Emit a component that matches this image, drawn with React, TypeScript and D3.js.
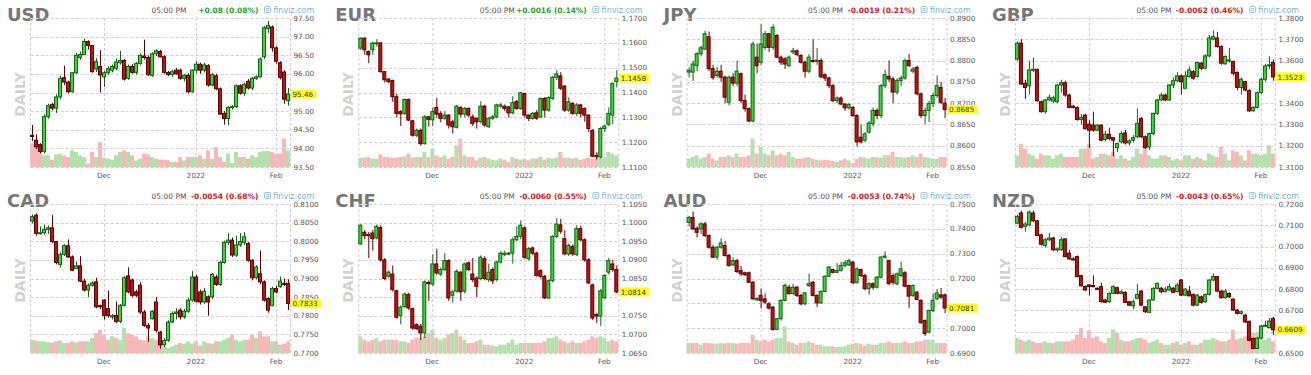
import React from "react";
import * as d3 from "d3";

type Candle = [number, number, number, number]; // open, high, low, close

const symbols = ["USD", "EUR", "JPY", "GBP", "CAD", "CHF", "AUD", "NZD"];
const changeTexts = ["+0.08 (0.08%)", "+0.0016 (0.14%)", "-0.0019 (0.21%)", "-0.0062 (0.46%)", "-0.0054 (0.68%)", "-0.0060 (0.55%)", "-0.0053 (0.74%)", "-0.0043 (0.65%)"];
const lastLabels = ["95.46", "1.1458", "0.8685", "1.3523", "0.7833", "1.0814", "0.7081", "0.6609"];
const monthLabels = ["Dec", "2022", "Feb"];
const monthIndex = [18, 41, 61];

const usdTicks = [93.5, 94, 94.5, 95, 95.5, 96, 96.5, 97, 97.5];
const eurTicks = [1.11, 1.12, 1.13, 1.14, 1.15, 1.16, 1.17];
const jpyTicks = [0.855, 0.86, 0.865, 0.87, 0.875, 0.88, 0.885, 0.89];
const gbpTicks = [1.31, 1.32, 1.33, 1.34, 1.35, 1.36, 1.37, 1.38];
const cadTicks = [0.77, 0.775, 0.78, 0.785, 0.79, 0.795, 0.8, 0.805, 0.81];
const chfTicks = [1.065, 1.07, 1.075, 1.08, 1.085, 1.09, 1.095, 1.1, 1.105];
const audTicks = [0.69, 0.7, 0.71, 0.72, 0.73, 0.74, 0.75];
const nzdTicks = [0.65, 0.66, 0.67, 0.68, 0.69, 0.7, 0.71, 0.72];

const usdCandles: Candle[] = [
  [94.35,94.63,94.20,94.32],[94.22,94.38,93.98,94.04],[94.10,94.14,93.87,93.92],[93.92,94.92,93.86,94.85],[94.85,95.20,94.80,95.15],
  [95.18,95.22,95.02,95.08],[95.08,95.45,94.95,95.38],[95.38,95.95,95.32,95.88],[95.90,96.22,95.70,95.78],[95.78,95.82,95.48,95.52],
  [95.52,96.05,95.50,96.03],[96.03,96.56,96.00,96.50],[96.44,96.60,96.38,96.52],[96.52,96.95,96.50,96.87],[96.87,96.90,96.65,96.76],
  [96.76,96.78,96.03,96.06],[96.13,96.42,96.05,96.33],[96.20,96.64,95.50,95.97],[95.92,96.08,95.65,96.03],[96.03,96.20,95.98,96.14],
  [96.10,96.25,96.04,96.20],[96.15,96.42,96.10,96.32],[96.30,96.62,96.25,96.36],[96.36,96.40,95.82,95.86],[95.88,96.25,95.84,96.20],
  [96.20,96.26,96.00,96.04],[96.04,96.32,95.98,96.28],[96.28,96.55,96.24,96.50],[96.48,96.92,96.38,96.44],[96.44,96.50,95.94,95.98],
  [95.96,96.58,95.92,96.54],[96.54,96.66,96.48,96.62],[96.60,96.64,96.44,96.46],[96.46,96.50,96.00,96.04],[96.04,96.08,95.94,95.98],
  [95.98,96.10,95.92,96.06],[96.10,96.16,95.98,96.00],[96.10,96.14,95.84,95.88],[95.88,96.00,95.80,95.96],[95.96,96.02,95.48,95.52],
  [95.52,96.12,95.50,96.10],[96.10,96.34,96.02,96.26],[96.26,96.30,96.00,96.10],[96.10,96.30,96.04,96.24],[96.22,96.26,95.66,95.70],
  [95.70,96.02,95.66,95.98],[95.95,96.00,95.56,95.60],[95.60,95.64,94.90,94.92],[94.94,95.00,94.64,94.80],[94.80,95.14,94.62,95.10],
  [95.10,95.16,95.04,95.12],[95.12,95.72,95.08,95.68],[95.68,95.72,95.44,95.48],[95.48,95.76,95.40,95.72],[95.80,95.86,95.58,95.62],
  [95.62,95.92,95.56,95.88],[95.88,95.96,95.84,95.92],[95.92,96.44,95.90,96.40],[96.46,97.28,96.40,97.24],[97.22,97.42,97.10,97.30],
  [97.26,97.30,96.60,96.70],[96.70,96.74,96.28,96.34],[96.30,96.34,95.85,95.90],[96.05,96.10,95.20,95.32],[95.28,95.62,95.15,95.46],
];
const usdVolume = [70,70,65,35,35,22,38,40,35,30,50,45,35,30,10,45,30,75,28,25,22,35,45,50,45,35,20,25,40,38,30,25,22,22,20,15,15,30,20,30,30,30,35,25,50,25,60,30,15,40,12,45,30,30,25,35,30,45,48,48,45,40,40,85,50];

const eurCandles: Candle[] = [
  [1.1579,1.1622,1.1572,1.1619],[1.1619,1.1622,1.1552,1.1572],[1.1565,1.1570,1.1518,1.1552],[1.1572,1.1605,1.1552,1.1599],[1.1596,1.1615,1.1585,1.1600],
  [1.1600,1.1602,1.1480,1.1484],[1.1484,1.1486,1.1440,1.1451],[1.1454,1.1458,1.1438,1.1444],[1.1448,1.1452,1.1362,1.1383],[1.1383,1.1395,1.1300,1.1316],
  [1.1323,1.1330,1.1265,1.1314],[1.1316,1.1376,1.1310,1.1372],[1.1372,1.1376,1.1285,1.1289],[1.1286,1.1290,1.1222,1.1228],[1.1228,1.1255,1.1220,1.1248],
  [1.1248,1.1255,1.1186,1.1194],[1.1194,1.1310,1.1190,1.1302],[1.1302,1.1306,1.1262,1.1292],[1.1290,1.1340,1.1265,1.1323],[1.1340,1.1378,1.1300,1.1313],
  [1.1316,1.1325,1.1280,1.1296],[1.1296,1.1325,1.1290,1.1309],[1.1309,1.1312,1.1255,1.1269],[1.1282,1.1290,1.1235,1.1262],[1.1260,1.1350,1.1255,1.1345],
  [1.1340,1.1345,1.1300,1.1313],[1.1313,1.1342,1.1300,1.1336],[1.1336,1.1340,1.1300,1.1309],[1.1302,1.1312,1.1265,1.1275],[1.1296,1.1300,1.1255,1.1282],
  [1.1282,1.1365,1.1275,1.1345],[1.1345,1.1350,1.1262,1.1269],[1.1262,1.1302,1.1258,1.1296],[1.1296,1.1310,1.1290,1.1302],[1.1302,1.1355,1.1296,1.1350],
  [1.1345,1.1358,1.1338,1.1350],[1.1345,1.1352,1.1325,1.1336],[1.1342,1.1346,1.1300,1.1318],[1.1318,1.1385,1.1312,1.1359],[1.1363,1.1370,1.1330,1.1336],
  [1.1336,1.1402,1.1330,1.1399],[1.1396,1.1400,1.1300,1.1309],[1.1309,1.1312,1.1285,1.1296],[1.1296,1.1322,1.1290,1.1316],[1.1318,1.1330,1.1290,1.1296],
  [1.1302,1.1380,1.1296,1.1376],[1.1376,1.1382,1.1300,1.1329],[1.1329,1.1385,1.1322,1.1380],[1.1376,1.1466,1.1370,1.1461],[1.1461,1.1490,1.1450,1.1475],
  [1.1467,1.1482,1.1410,1.1417],[1.1426,1.1430,1.1322,1.1329],[1.1329,1.1380,1.1322,1.1363],[1.1356,1.1362,1.1310,1.1316],[1.1316,1.1358,1.1305,1.1350],
  [1.1350,1.1355,1.1300,1.1316],[1.1336,1.1340,1.1282,1.1309],[1.1309,1.1312,1.1240,1.1255],[1.1248,1.1252,1.1140,1.1143],[1.1147,1.1160,1.1130,1.1144],
  [1.1141,1.1262,1.1135,1.1255],[1.1255,1.1270,1.1240,1.1265],[1.1272,1.1340,1.1265,1.1316],[1.1309,1.1440,1.1272,1.1437],[1.1444,1.1490,1.1420,1.1458],
];
const eurVolume = [28,28,30,25,25,38,30,30,28,28,30,32,40,28,30,30,45,30,55,35,30,35,25,30,65,85,35,30,30,20,28,30,25,22,20,25,22,15,30,25,22,25,20,25,25,30,22,28,25,28,45,28,28,25,28,22,25,28,25,30,30,30,45,40,35];

const jpyCandles: Candle[] = [
  [0.8773,0.8784,0.8760,0.8777],[0.8773,0.8800,0.8752,0.8792],[0.8788,0.8820,0.8775,0.8816],[0.8816,0.8835,0.8810,0.8830],[0.8827,0.8870,0.8825,0.8863],
  [0.8856,0.8868,0.8775,0.8781],[0.8781,0.8790,0.8755,0.8760],[0.8765,0.8785,0.8760,0.8775],[0.8775,0.8790,0.8750,0.8761],[0.8761,0.8765,0.8700,0.8714],
  [0.8702,0.8765,0.8695,0.8761],[0.8761,0.8770,0.8740,0.8747],[0.8747,0.8800,0.8740,0.8775],[0.8769,0.8772,0.8700,0.8706],[0.8706,0.8720,0.8680,0.8687],
  [0.8687,0.8690,0.8655,0.8658],[0.8658,0.8845,0.8655,0.8839],[0.8808,0.8840,0.8770,0.8788],[0.8796,0.8885,0.8790,0.8839],[0.8831,0.8870,0.8825,0.8863],
  [0.8863,0.8865,0.8820,0.8831],[0.8831,0.8885,0.8825,0.8878],[0.8859,0.8862,0.8805,0.8808],[0.8808,0.8812,0.8790,0.8796],[0.8804,0.8808,0.8780,0.8792],
  [0.8788,0.8812,0.8785,0.8808],[0.8820,0.8830,0.8815,0.8823],[0.8823,0.8826,0.8810,0.8814],[0.8812,0.8815,0.8793,0.8796],[0.8796,0.8800,0.8760,0.8775],
  [0.8775,0.8815,0.8770,0.8808],[0.8800,0.8850,0.8795,0.8798],[0.8798,0.8830,0.8790,0.8801],[0.8800,0.8805,0.8758,0.8762],[0.8767,0.8770,0.8752,0.8759],
  [0.8759,0.8762,0.8735,0.8741],[0.8741,0.8745,0.8702,0.8706],[0.8706,0.8716,0.8700,0.8712],[0.8712,0.8716,0.8695,0.8698],[0.8698,0.8700,0.8682,0.8689],
  [0.8689,0.8700,0.8685,0.8697],[0.8690,0.8693,0.8668,0.8671],[0.8671,0.8674,0.8598,0.8609],[0.8620,0.8650,0.8605,0.8609],[0.8613,0.8632,0.8608,0.8628],
  [0.8632,0.8658,0.8628,0.8653],[0.8652,0.8690,0.8645,0.8683],[0.8683,0.8688,0.8662,0.8671],[0.8671,0.8745,0.8665,0.8741],[0.8741,0.8778,0.8735,0.8767],
  [0.8763,0.8800,0.8750,0.8757],[0.8757,0.8762,0.8700,0.8726],[0.8726,0.8758,0.8720,0.8753],[0.8753,0.8765,0.8740,0.8759],[0.8759,0.8805,0.8755,0.8800],
  [0.8800,0.8815,0.8785,0.8788],[0.8775,0.8785,0.8770,0.8780],[0.8784,0.8788,0.8718,0.8722],[0.8722,0.8725,0.8665,0.8671],[0.8671,0.8690,0.8650,0.8683],
  [0.8683,0.8705,0.8655,0.8699],[0.8699,0.8725,0.8690,0.8718],[0.8718,0.8765,0.8712,0.8741],[0.8737,0.8750,0.8698,0.8702],[0.8700,0.8712,0.8665,0.8685],
];
const jpyVolume = [25,30,35,25,30,40,25,20,30,30,35,30,40,30,30,35,85,40,60,40,35,50,35,40,35,45,30,25,25,28,30,25,22,20,22,20,18,15,20,25,20,12,25,30,28,25,30,30,28,35,35,45,30,30,28,30,35,30,40,30,28,25,25,30,30];

const gbpCandles: Candle[] = [
  [1.3607,1.3690,1.3600,1.3682],[1.3682,1.3700,1.3485,1.3490],[1.3493,1.3510,1.3420,1.3474],[1.3481,1.3600,1.3440,1.3556],[1.3556,1.3615,1.3545,1.3559],
  [1.3559,1.3562,1.3408,1.3411],[1.3407,1.3412,1.3355,1.3360],[1.3360,1.3420,1.3350,1.3415],[1.3415,1.3440,1.3410,1.3427],[1.3410,1.3435,1.3400,1.3425],
  [1.3407,1.3490,1.3400,1.3485],[1.3485,1.3510,1.3450,1.3496],[1.3496,1.3505,1.3430,1.3438],[1.3438,1.3445,1.3376,1.3380],[1.3386,1.3390,1.3375,1.3380],
  [1.3380,1.3385,1.3318,1.3323],[1.3323,1.3350,1.3300,1.3333],[1.3344,1.3350,1.3275,1.3281],[1.3301,1.3320,1.3190,1.3273],[1.3297,1.3360,1.3265,1.3273],
  [1.3273,1.3300,1.3270,1.3297],[1.3297,1.3300,1.3220,1.3226],[1.3229,1.3270,1.3220,1.3254],[1.3254,1.3285,1.3225,1.3234],[1.3238,1.3240,1.3150,1.3226],
  [1.3191,1.3215,1.3170,1.3210],[1.3218,1.3270,1.3210,1.3257],[1.3260,1.3275,1.3205,1.3213],[1.3213,1.3230,1.3200,1.3223],[1.3226,1.3250,1.3215,1.3238],
  [1.3242,1.3375,1.3235,1.3305],[1.3328,1.3335,1.3235,1.3242],[1.3242,1.3248,1.3185,1.3191],[1.3194,1.3262,1.3180,1.3257],[1.3257,1.3355,1.3250,1.3352],
  [1.3352,1.3420,1.3345,1.3415],[1.3415,1.3450,1.3410,1.3438],[1.3438,1.3445,1.3410,1.3415],[1.3415,1.3490,1.3410,1.3485],[1.3485,1.3520,1.3470,1.3505],
  [1.3505,1.3545,1.3500,1.3528],[1.3528,1.3535,1.3440,1.3501],[1.3470,1.3550,1.3465,1.3528],[1.3525,1.3572,1.3520,1.3556],[1.3548,1.3555,1.3510,1.3517],
  [1.3525,1.3595,1.3520,1.3591],[1.3588,1.3592,1.3555,1.3564],[1.3564,1.3630,1.3560,1.3622],[1.3622,1.3720,1.3615,1.3706],[1.3701,1.3742,1.3695,1.3713],
  [1.3706,1.3735,1.3660,1.3666],[1.3666,1.3672,1.3580,1.3588],[1.3585,1.3625,1.3580,1.3619],[1.3599,1.3660,1.3590,1.3603],[1.3595,1.3600,1.3530,1.3540],
  [1.3544,1.3550,1.3460,1.3474],[1.3474,1.3520,1.3440,1.3512],[1.3501,1.3505,1.3455,1.3462],[1.3459,1.3465,1.3358,1.3364],[1.3364,1.3385,1.3360,1.3380],
  [1.3380,1.3455,1.3375,1.3449],[1.3449,1.3520,1.3445,1.3512],[1.3512,1.3585,1.3500,1.3575],[1.3575,1.3620,1.3560,1.3580],[1.3591,1.3605,1.3505,1.3523],
];
const gbpVolume = [35,70,55,40,35,25,40,35,35,25,35,40,30,30,30,30,55,55,70,25,30,40,40,35,45,25,35,25,20,30,55,40,55,35,25,25,35,35,30,20,25,20,35,35,25,30,25,20,40,35,30,60,40,20,50,45,35,20,50,40,40,35,40,65,40];

const cadCandles: Candle[] = [
  [0.8054,0.8072,0.8048,0.8066],[0.8070,0.8075,0.8015,0.8021],[0.8021,0.8040,0.8018,0.8023],[0.8023,0.8045,0.8018,0.8032],[0.8032,0.8042,0.8020,0.8036],
  [0.8036,0.8070,0.7995,0.7999],[0.7999,0.8000,0.7938,0.7943],[0.7938,0.7970,0.7930,0.7965],[0.7965,0.7992,0.7960,0.7988],[0.7988,0.8005,0.7955,0.7958],
  [0.7958,0.7962,0.7920,0.7922],[0.7927,0.7945,0.7925,0.7934],[0.7934,0.7960,0.7890,0.7893],[0.7893,0.7900,0.7865,0.7869],[0.7869,0.7887,0.7850,0.7882],
  [0.7882,0.7893,0.7878,0.7888],[0.7891,0.7902,0.7820,0.7824],[0.7827,0.7830,0.7818,0.7824],[0.7842,0.7845,0.7790,0.7801],[0.7819,0.7868,0.7795,0.7801],
  [0.7797,0.7805,0.7790,0.7800],[0.7801,0.7838,0.7780,0.7785],[0.7785,0.7832,0.7780,0.7828],[0.7828,0.7906,0.7825,0.7902],[0.7907,0.7930,0.7860,0.7864],
  [0.7896,0.7900,0.7850,0.7855],[0.7864,0.7870,0.7850,0.7855],[0.7882,0.7890,0.7805,0.7810],[0.7810,0.7815,0.7770,0.7774],[0.7774,0.7780,0.7730,0.7767],
  [0.7792,0.7815,0.7790,0.7812],[0.7837,0.7850,0.7755,0.7761],[0.7756,0.7760,0.7712,0.7722],[0.7722,0.7740,0.7716,0.7734],[0.7734,0.7788,0.7730,0.7783],
  [0.7783,0.7812,0.7780,0.7806],[0.7806,0.7820,0.7790,0.7810],[0.7815,0.7820,0.7790,0.7797],[0.7797,0.7818,0.7792,0.7812],[0.7812,0.7848,0.7808,0.7842],
  [0.7842,0.7920,0.7838,0.7904],[0.7904,0.7910,0.7835,0.7839],[0.7864,0.7870,0.7830,0.7837],[0.7837,0.7875,0.7832,0.7866],[0.7851,0.7855,0.7800,0.7837],
  [0.7851,0.7915,0.7845,0.7911],[0.7904,0.7910,0.7880,0.7884],[0.7884,0.7948,0.7880,0.7943],[0.7943,0.8002,0.7940,0.7997],[0.7997,0.8022,0.7990,0.8003],
  [0.8003,0.8010,0.7958,0.7963],[0.7963,0.8015,0.7958,0.7990],[0.7990,0.8022,0.7985,0.7999],[0.7997,0.8025,0.7990,0.8012],[0.7994,0.7998,0.7945,0.7949],
  [0.7949,0.7952,0.7895,0.7902],[0.7902,0.7936,0.7898,0.7931],[0.7913,0.7975,0.7885,0.7891],[0.7891,0.7895,0.7838,0.7842],[0.7846,0.7850,0.7808,0.7815],
  [0.7828,0.7878,0.7825,0.7873],[0.7873,0.7880,0.7860,0.7864],[0.7878,0.7905,0.7875,0.7893],[0.7887,0.7900,0.7880,0.7884],[0.7887,0.7898,0.7815,0.7833],
];
const cadVolume = [40,38,35,35,33,30,35,38,30,30,35,32,35,35,35,45,60,70,55,40,50,45,40,75,60,55,50,40,38,50,45,40,25,20,15,20,25,30,28,35,28,35,22,35,30,28,35,35,40,45,55,40,35,40,40,55,45,65,50,50,35,35,25,28,35];

const chfCandles: Candle[] = [
  [1.0943,1.0996,1.0940,1.0993],[1.0974,1.0980,1.0955,1.0965],[1.0968,1.0975,1.0905,1.0965],[1.0972,1.0980,1.0925,1.0957],[1.0959,1.0995,1.0955,1.0990],
  [1.0987,1.0993,1.0895,1.0900],[1.0900,1.0905,1.0845,1.0850],[1.0856,1.0872,1.0850,1.0867],[1.0862,1.0885,1.0815,1.0820],[1.0817,1.0820,1.0742,1.0746],
  [1.0751,1.0778,1.0727,1.0773],[1.0775,1.0812,1.0770,1.0808],[1.0807,1.0812,1.0765,1.0771],[1.0769,1.0772,1.0712,1.0717],[1.0726,1.0730,1.0712,1.0715],
  [1.0722,1.0728,1.0685,1.0704],[1.0704,1.0845,1.0690,1.0841],[1.0839,1.0845,1.0790,1.0838],[1.0835,1.0915,1.0830,1.0889],[1.0889,1.0930,1.0860,1.0865],
  [1.0862,1.0880,1.0856,1.0874],[1.0874,1.0918,1.0870,1.0898],[1.0898,1.0902,1.0790,1.0798],[1.0805,1.0820,1.0785,1.0814],[1.0816,1.0875,1.0812,1.0869],
  [1.0867,1.0870,1.0790,1.0814],[1.0816,1.0893,1.0810,1.0889],[1.0892,1.0896,1.0870,1.0874],[1.0862,1.0905,1.0840,1.0847],[1.0851,1.0856,1.0800,1.0829],
  [1.0850,1.0912,1.0845,1.0907],[1.0903,1.0910,1.0845,1.0850],[1.0847,1.0890,1.0840,1.0867],[1.0874,1.0880,1.0835,1.0844],[1.0847,1.0898,1.0842,1.0894],
  [1.0894,1.0924,1.0890,1.0918],[1.0914,1.0925,1.0910,1.0918],[1.0916,1.0922,1.0912,1.0918],[1.0918,1.0960,1.0890,1.0954],[1.0954,1.0990,1.0950,1.0963],
  [1.0963,1.1006,1.0955,1.0993],[1.0986,1.0990,1.0903,1.0907],[1.0903,1.0935,1.0898,1.0930],[1.0932,1.0936,1.0912,1.0918],[1.0918,1.0922,1.0855,1.0858],
  [1.0871,1.0875,1.0850,1.0856],[1.0856,1.0860,1.0795,1.0798],[1.0798,1.0848,1.0795,1.0844],[1.0844,1.0966,1.0840,1.0963],[1.0963,1.1012,1.0958,1.0996],
  [1.0994,1.1010,1.0970,1.0977],[1.0957,1.0980,1.0912,1.0916],[1.0916,1.0944,1.0910,1.0939],[1.0936,1.0942,1.0910,1.0916],[1.0914,1.0993,1.0910,1.0984],
  [1.0984,1.0992,1.0950,1.0954],[1.0954,1.0958,1.0895,1.0900],[1.0900,1.0905,1.0835,1.0838],[1.0833,1.0836,1.0738,1.0744],[1.0753,1.0758,1.0730,1.0749],
  [1.0749,1.0822,1.0722,1.0817],[1.0798,1.0862,1.0795,1.0858],[1.0867,1.0905,1.0860,1.0898],[1.0889,1.0900,1.0868,1.0874],[1.0874,1.0885,1.0810,1.0814],
];
const chfVolume = [50,40,35,40,45,35,40,40,40,40,35,35,30,40,45,45,50,60,70,45,40,45,55,60,70,50,40,30,30,35,40,25,25,22,20,25,25,30,40,25,30,30,30,30,30,30,35,45,45,50,40,35,30,35,30,30,35,40,50,45,50,45,35,40,35];

const audCandles: Candle[] = [
  [0.7426,0.7452,0.7410,0.7446],[0.7446,0.7470,0.7395,0.7400],[0.7402,0.7410,0.7365,0.7386],[0.7400,0.7428,0.7380,0.7420],[0.7420,0.7428,0.7368,0.7373],
  [0.7373,0.7378,0.7320,0.7326],[0.7326,0.7335,0.7282,0.7286],[0.7286,0.7330,0.7275,0.7326],[0.7326,0.7362,0.7320,0.7343],[0.7333,0.7352,0.7288,0.7293],
  [0.7293,0.7298,0.7248,0.7252],[0.7255,0.7285,0.7250,0.7272],[0.7272,0.7280,0.7222,0.7228],[0.7232,0.7250,0.7210,0.7219],[0.7223,0.7228,0.7210,0.7215],
  [0.7223,0.7228,0.7182,0.7185],[0.7185,0.7190,0.7115,0.7118],[0.7114,0.7125,0.7110,0.7120],[0.7132,0.7160,0.7080,0.7112],[0.7118,0.7140,0.7098,0.7105],
  [0.7098,0.7105,0.7075,0.7081],[0.7085,0.7088,0.6990,0.6995],[0.6995,0.7042,0.6992,0.7038],[0.7038,0.7116,0.7030,0.7112],[0.7112,0.7180,0.7108,0.7172],
  [0.7165,0.7175,0.7135,0.7139],[0.7139,0.7178,0.7135,0.7165],[0.7165,0.7170,0.7125,0.7132],[0.7132,0.7138,0.7092,0.7098],[0.7098,0.7146,0.7092,0.7142],
  [0.7172,0.7220,0.7165,0.7179],[0.7185,0.7190,0.7128,0.7132],[0.7132,0.7136,0.7085,0.7102],[0.7102,0.7152,0.7098,0.7148],[0.7148,0.7213,0.7145,0.7209],
  [0.7209,0.7250,0.7205,0.7246],[0.7236,0.7240,0.7220,0.7225],[0.7225,0.7262,0.7222,0.7232],[0.7232,0.7268,0.7228,0.7252],[0.7252,0.7275,0.7245,0.7263],
  [0.7255,0.7280,0.7250,0.7272],[0.7266,0.7270,0.7178,0.7183],[0.7183,0.7245,0.7180,0.7239],[0.7236,0.7240,0.7205,0.7212],[0.7212,0.7220,0.7152,0.7159],
  [0.7159,0.7185,0.7135,0.7179],[0.7179,0.7185,0.7155,0.7165],[0.7165,0.7210,0.7160,0.7205],[0.7205,0.7290,0.7200,0.7286],[0.7286,0.7310,0.7280,0.7290],
  [0.7272,0.7276,0.7175,0.7179],[0.7212,0.7220,0.7175,0.7185],[0.7179,0.7224,0.7172,0.7219],[0.7212,0.7268,0.7205,0.7239],[0.7223,0.7230,0.7165,0.7169],
  [0.7172,0.7176,0.7082,0.7129],[0.7132,0.7176,0.7125,0.7172],[0.7145,0.7150,0.7112,0.7116],[0.7112,0.7116,0.7018,0.7022],[0.7031,0.7035,0.6968,0.6978],
  [0.6984,0.7075,0.6980,0.7071],[0.7071,0.7140,0.7065,0.7112],[0.7118,0.7158,0.7112,0.7142],[0.7134,0.7162,0.7118,0.7125],[0.7134,0.7140,0.7060,0.7081],
];
const audVolume = [30,30,30,25,30,30,28,28,30,28,30,30,28,30,30,30,55,40,35,40,35,40,45,45,80,35,30,25,30,30,35,30,25,25,20,20,20,18,18,20,25,28,30,28,22,28,25,25,30,30,35,30,30,30,35,30,30,35,35,40,40,40,30,30,30];

const nzdCandles: Candle[] = [
  [0.7110,0.7148,0.7105,0.7142],[0.7158,0.7168,0.7085,0.7090],[0.7095,0.7115,0.7070,0.7106],[0.7102,0.7170,0.7098,0.7162],[0.7158,0.7170,0.7115,0.7121],
  [0.7121,0.7125,0.7048,0.7052],[0.7055,0.7060,0.7005,0.7011],[0.7005,0.7040,0.6995,0.7032],[0.7032,0.7065,0.7025,0.7040],[0.7040,0.7045,0.6980,0.6985],
  [0.6985,0.6995,0.6975,0.6989],[0.6985,0.7045,0.6980,0.7032],[0.7036,0.7040,0.6950,0.6953],[0.6969,0.6985,0.6938,0.6942],[0.6942,0.6950,0.6935,0.6940],
  [0.6953,0.6958,0.6855,0.6859],[0.6863,0.6868,0.6812,0.6816],[0.6812,0.6818,0.6790,0.6796],[0.6820,0.6822,0.6770,0.6812],[0.6817,0.6865,0.6808,0.6812],
  [0.6804,0.6808,0.6795,0.6800],[0.6812,0.6830,0.6738,0.6741],[0.6749,0.6752,0.6735,0.6738],[0.6741,0.6785,0.6735,0.6780],[0.6780,0.6818,0.6776,0.6812],
  [0.6807,0.6812,0.6776,0.6780],[0.6780,0.6795,0.6775,0.6788],[0.6785,0.6790,0.6735,0.6738],[0.6741,0.6745,0.6720,0.6725],[0.6722,0.6752,0.6705,0.6741],
  [0.6757,0.6825,0.6752,0.6775],[0.6791,0.6795,0.6720,0.6725],[0.6717,0.6720,0.6688,0.6694],[0.6691,0.6752,0.6688,0.6749],[0.6749,0.6808,0.6745,0.6804],
  [0.6804,0.6832,0.6800,0.6827],[0.6804,0.6810,0.6780,0.6788],[0.6788,0.6810,0.6785,0.6800],[0.6796,0.6825,0.6790,0.6812],[0.6804,0.6810,0.6780,0.6785],
  [0.6788,0.6830,0.6785,0.6819],[0.6843,0.6848,0.6768,0.6772],[0.6772,0.6805,0.6768,0.6800],[0.6791,0.6815,0.6765,0.6769],[0.6775,0.6780,0.6720,0.6725],
  [0.6725,0.6778,0.6720,0.6772],[0.6764,0.6770,0.6732,0.6738],[0.6741,0.6780,0.6735,0.6775],[0.6775,0.6848,0.6770,0.6843],[0.6843,0.6875,0.6838,0.6859],
  [0.6859,0.6862,0.6785,0.6791],[0.6791,0.6795,0.6755,0.6760],[0.6760,0.6800,0.6755,0.6791],[0.6780,0.6785,0.6758,0.6764],[0.6753,0.6757,0.6698,0.6702],
  [0.6702,0.6706,0.6680,0.6686],[0.6686,0.6698,0.6680,0.6694],[0.6678,0.6685,0.6640,0.6646],[0.6649,0.6652,0.6555,0.6560],[0.6568,0.6572,0.6518,0.6521],
  [0.6521,0.6575,0.6518,0.6570],[0.6570,0.6632,0.6565,0.6627],[0.6627,0.6652,0.6622,0.6630],[0.6619,0.6665,0.6615,0.6650],[0.6662,0.6670,0.6585,0.6609],
];
const nzdVolume = [45,40,35,40,35,30,30,35,30,30,35,35,35,35,40,55,75,45,68,45,50,35,30,45,70,60,40,35,35,40,45,45,40,30,35,40,30,25,25,30,35,25,30,35,25,25,30,40,40,45,40,35,35,40,70,40,45,50,55,60,60,50,40,45,35];

const allCandles = [usdCandles, eurCandles, jpyCandles, gbpCandles, cadCandles, chfCandles, audCandles, nzdCandles];
const allVolumes = [usdVolume, eurVolume, jpyVolume, gbpVolume, cadVolume, chfVolume, audVolume, nzdVolume];
const allTicks = [usdTicks, eurTicks, jpyTicks, gbpTicks, cadTicks, chfTicks, audTicks, nzdTicks];

const PLOT = { left: 30.7, right: 290.7, top: 18, bottom: 167 };
const COL_W = 328.3;
const ROW_H = 186;
const FONT = "'DejaVu Sans', Verdana, sans-serif";

const UP_FILL = "#2fdc2f";
const UP_LINE = "#1a5c1a";
const DOWN_FILL = "#c40f0f";
const DOWN_LINE = "#520404";
const VOL_UP = "#b3e1aa";
const VOL_DOWN = "#f8b8b8";
const GRID = "#cfcfcf";

function Panel({ idx }: { idx: number }) {
  const candles = allCandles[idx];
  const volumes = allVolumes[idx];
  const ticks = allTicks[idx];
  const symbol = symbols[idx];
  const change = changeTexts[idx];
  const lastLabel = lastLabels[idx];
  const ox = (idx % 4) * COL_W;
  const oy = Math.floor(idx / 4) * ROW_H;
  const n = candles.length;

  const x = d3.scaleLinear().domain([0, n - 1]).range([32, 288]);
  const y = d3.scaleLinear().domain([ticks[0], ticks[ticks.length - 1]]).range([PLOT.bottom, PLOT.top]);
  const v = d3.scaleLinear().domain([0, 90]).range([0, 30]);
  const fmt = d3.format(symbol === "USD" ? ".2f" : ".4f");
  const crisp = (t: number) => Math.round(t) + 0.5;
  const up = change.startsWith("+");
  const lastClose = candles[n - 1][3];
  const ly = y(lastClose);
  const labelW = lastLabel.length * 4.7 + 2;
  // tick labels hidden behind the yellow last-price tag (as in the original)
  const visibleTicks = ticks.filter((t) => Math.abs(y(t) - ly) > 5.6);

  return (
    <g transform={`translate(${ox},${oy})`}>
      <text x={7} y={20.7} fontSize={18} fontWeight="bold" fill="#767676">{symbol}</text>
      <text transform="translate(25,94.5) rotate(-90)" textAnchor="middle" fontSize={14} fontWeight="bold" fill="#d2d2d2">DAILY</text>
      <text x={151.5} y={13.3} fontSize={7.5} fill="#555">05:00 PM</text>
      <text x={258.5} y={13.3} textAnchor="end" fontSize={7.5} fontWeight="bold" fill={up ? "#2f9f2f" : "#cc2222"}>{change}</text>
      <g stroke="#86b4d2" fill="none" strokeWidth={0.8}>
        <rect x={264.5} y={6.5} width={6} height={6} rx={0.8} />
        <line x1={266} y1={8.5} x2={269} y2={8.5} />
        <line x1={266} y1={10.5} x2={269} y2={10.5} />
      </g>
      <text x={273.3} y={13.2} fontSize={8} fill="#7fb0d0">finviz.com</text>

      {volumes.map((vol, i) => {
        const c = candles[i];
        const isUp = c[3] >= c[0];
        const h = v(vol);
        return (
          <rect key={`v${i}`} x={x(i) - 2} y={PLOT.bottom - h} width={4} height={h} fill={isUp ? VOL_UP : VOL_DOWN} />
        );
      })}

      {ticks.map((t, i) => (
        <line key={`h${i}`} x1={PLOT.left} x2={PLOT.right} y1={crisp(y(t))} y2={crisp(y(t))} stroke={GRID} strokeDasharray="3,2" />
      ))}
      {[PLOT.left, PLOT.right].map((px, i) => (
        <line key={`e${i}`} x1={crisp(px - 0.5)} x2={crisp(px - 0.5)} y1={PLOT.top} y2={PLOT.bottom} stroke={GRID} strokeDasharray="3,2" />
      ))}
      {monthIndex.map((mi, i) => (
        <g key={`m${i}`}>
          <line x1={crisp(x(mi))} x2={crisp(x(mi))} y1={PLOT.top} y2={PLOT.bottom} stroke={GRID} strokeDasharray="3,2" />
          <text x={x(mi)} y={178.3} textAnchor="middle" fontSize={7.2} fill="#555">{monthLabels[i]}</text>
        </g>
      ))}

      {candles.map((c, i) => {
        const [o, h, l, cl] = c;
        const isUp = cl >= o;
        const px = Math.round(x(i));
        const yTop = y(Math.max(o, cl));
        const yBot = y(Math.min(o, cl));
        const bh = Math.max(1, yBot - yTop);
        return (
          <g key={`c${i}`}>
            <line x1={px + 0.5} x2={px + 0.5} y1={y(h)} y2={y(l)} stroke={isUp ? UP_LINE : DOWN_LINE} strokeWidth={1} />
            <rect x={px - 1.5} y={yTop} width={3} height={bh} fill={isUp ? UP_FILL : DOWN_FILL} stroke={isUp ? UP_LINE : DOWN_LINE} strokeWidth={1} />
          </g>
        );
      })}

      {visibleTicks.map((t, i) => (
        <text key={`t${i}`} x={293.5} y={y(t) + 2.6} fontSize={7.2} fill="#555">{fmt(t)}</text>
      ))}

      <rect x={291} y={ly - 4.5} width={labelW} height={9} fill="#ffff1a" />
      <text x={292.5} y={ly + 2.6} fontSize={7.2} fill="#333">{lastLabel}</text>
    </g>
  );
}

export default function App() {
  return (
    <svg width={1311} height={375} style={{ position: "absolute", left: 0, top: 0, background: "#fff" }} fontFamily={FONT}>
      <rect x={0} y={0} width={1311} height={375} fill="#fff" />
      {symbols.map((s, i) => (
        <Panel key={s} idx={i} />
      ))}
    </svg>
  );
}
